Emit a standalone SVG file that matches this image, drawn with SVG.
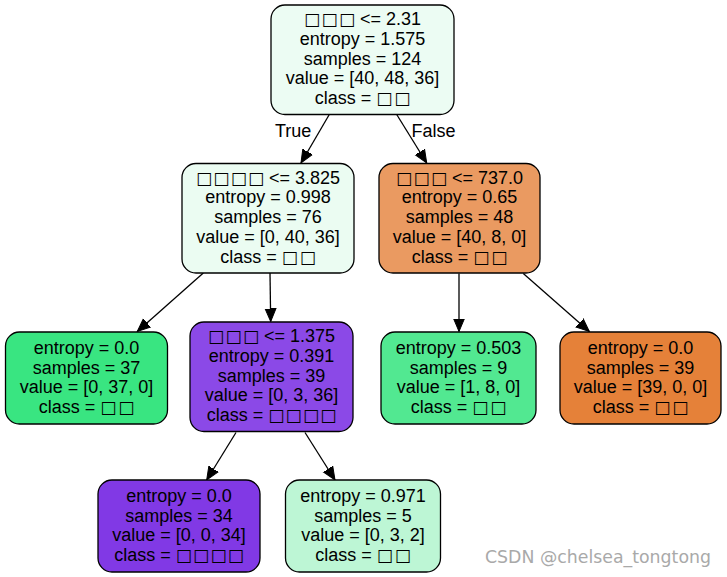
<svg xmlns="http://www.w3.org/2000/svg" width="727" height="577" viewBox="0 0 727 577">
<style>
.n{stroke:#000;stroke-width:1.3}
text{font-family:"Liberation Sans",Arial,sans-serif;font-size:18px;fill:#000;text-anchor:middle}
text.s{text-anchor:start}
text.t{font-family:"DejaVu Sans","Liberation Sans",sans-serif;font-size:17px;text-anchor:start}
.e{stroke:#000;stroke-width:1.3;fill:none;marker-end:url(#ah)}
.wm{font-family:"DejaVu Sans","Liberation Sans",sans-serif;font-size:17px;fill:#a9a9a9;text-anchor:start}
</style>
<defs>
<marker id="ah" markerUnits="userSpaceOnUse" markerWidth="16" markerHeight="14" refX="13" refY="5.5" orient="auto" viewBox="0 0 16 11">
<path d="M0,0 L13,5.5 L0,11 Z" fill="#000" stroke="#000" stroke-width="1"/>
</marker>
</defs>
<rect width="727" height="577" fill="#fff"/>
<g id="edges">
<line class="e" x1="329.3" y1="114.5" x2="301" y2="163"/>
<line class="e" x1="396.7" y1="114.5" x2="426.7" y2="163"/>
<line class="e" x1="203.3" y1="273" x2="137.3" y2="331.5"/>
<line class="e" x1="270" y1="273" x2="270.7" y2="321.5"/>
<line class="e" x1="459" y1="273.5" x2="459" y2="331.5"/>
<line class="e" x1="523.3" y1="273.5" x2="589.3" y2="331.5"/>
<line class="e" x1="236" y1="432.5" x2="206.7" y2="480"/>
<line class="e" x1="305" y1="432.5" x2="335" y2="480"/>
<text class="s" x="275" y="136.5">True</text>
<text class="s" x="411.5" y="136.5">False</text>
</g>
<g id="node0">
<rect class="n" x="271" y="5" width="183" height="109.5" rx="14" fill="#ecfcf3"/>
<text class="t" x="304" y="25" textLength="51" lengthAdjust="spacing">□□□</text>
<text class="s" x="360" y="25">&lt;= 2.31</text>
<text x="362.5" y="44.8">entropy = 1.575</text>
<text x="362.5" y="64.6">samples = 124</text>
<text x="362.5" y="84.4">value = [40, 48, 36]</text>
<text class="s" x="314.7" y="104.2">class =</text>
<text class="t" x="376.3" y="104.2" textLength="34" lengthAdjust="spacing">□□</text>
</g>
<g id="node1">
<rect class="n" x="182" y="163.5" width="172" height="109.5" rx="14" fill="#ebfcf2"/>
<text class="t" x="196" y="183.5" textLength="68" lengthAdjust="spacing">□□□□</text>
<text class="s" x="269" y="183.5">&lt;= 3.825</text>
<text x="268" y="203.3">entropy = 0.998</text>
<text x="268" y="223.1">samples = 76</text>
<text x="268" y="242.9">value = [0, 40, 36]</text>
<text class="s" x="220.2" y="262.7">class =</text>
<text class="t" x="281.8" y="262.7" textLength="34" lengthAdjust="spacing">□□</text>
</g>
<g id="node2">
<rect class="n" x="379" y="163.5" width="161" height="109.5" rx="14" fill="#ea9a61"/>
<text class="t" x="396" y="183.5" textLength="51" lengthAdjust="spacing">□□□</text>
<text class="s" x="452" y="183.5">&lt;= 737.0</text>
<text x="459.5" y="203.3">entropy = 0.65</text>
<text x="459.5" y="223.1">samples = 48</text>
<text x="459.5" y="242.9">value = [40, 8, 0]</text>
<text class="s" x="411.7" y="262.7">class =</text>
<text class="t" x="473.3" y="262.7" textLength="34" lengthAdjust="spacing">□□</text>
</g>
<g id="node3">
<rect class="n" x="5.5" y="332" width="162" height="92" rx="14" fill="#39e581"/>
<text x="86.5" y="354">entropy = 0.0</text>
<text x="86.5" y="373.7">samples = 37</text>
<text x="86.5" y="393.4">value = [0, 37, 0]</text>
<text class="s" x="38.7" y="413.1">class =</text>
<text class="t" x="100.3" y="413.1" textLength="34" lengthAdjust="spacing">□□</text>
</g>
<g id="node4">
<rect class="n" x="190" y="322" width="163" height="109.5" rx="14" fill="#8b49e7"/>
<text class="t" x="208" y="342" textLength="51" lengthAdjust="spacing">□□□</text>
<text class="s" x="264" y="342">&lt;= 1.375</text>
<text x="271.5" y="361.8">entropy = 0.391</text>
<text x="271.5" y="381.6">samples = 39</text>
<text x="271.5" y="401.4">value = [0, 3, 36]</text>
<text class="s" x="206.7" y="421.2">class =</text>
<text class="t" x="268.3" y="421.2" textLength="68" lengthAdjust="spacing">□□□□</text>
</g>
<g id="node5">
<rect class="n" x="381" y="332" width="155" height="92" rx="14" fill="#52e891"/>
<text x="458.5" y="354">entropy = 0.503</text>
<text x="458.5" y="373.7">samples = 9</text>
<text x="458.5" y="393.4">value = [1, 8, 0]</text>
<text class="s" x="410.7" y="413.1">class =</text>
<text class="t" x="472.3" y="413.1" textLength="34" lengthAdjust="spacing">□□</text>
</g>
<g id="node6">
<rect class="n" x="560" y="332" width="161" height="92" rx="14" fill="#e58139"/>
<text x="640.5" y="354">entropy = 0.0</text>
<text x="640.5" y="373.7">samples = 39</text>
<text x="640.5" y="393.4">value = [39, 0, 0]</text>
<text class="s" x="592.7" y="413.1">class =</text>
<text class="t" x="654.3" y="413.1" textLength="34" lengthAdjust="spacing">□□</text>
</g>
<g id="node7">
<rect class="n" x="98" y="480" width="162" height="92" rx="14" fill="#8139e5"/>
<text x="179" y="502">entropy = 0.0</text>
<text x="179" y="521.7">samples = 34</text>
<text x="179" y="541.4">value = [0, 0, 34]</text>
<text class="s" x="114.2" y="561.1">class =</text>
<text class="t" x="175.8" y="561.1" textLength="68" lengthAdjust="spacing">□□□□</text>
</g>
<g id="node8">
<rect class="n" x="285.5" y="480" width="155" height="92" rx="14" fill="#bdf6d5"/>
<text x="363" y="502">entropy = 0.971</text>
<text x="363" y="521.7">samples = 5</text>
<text x="363" y="541.4">value = [0, 3, 2]</text>
<text class="s" x="315.2" y="561.1">class =</text>
<text class="t" x="376.8" y="561.1" textLength="34" lengthAdjust="spacing">□□</text>
</g>
<text class="wm" x="485" y="562.5" textLength="226" lengthAdjust="spacingAndGlyphs">CSDN @chelsea_tongtong</text>
</svg>
